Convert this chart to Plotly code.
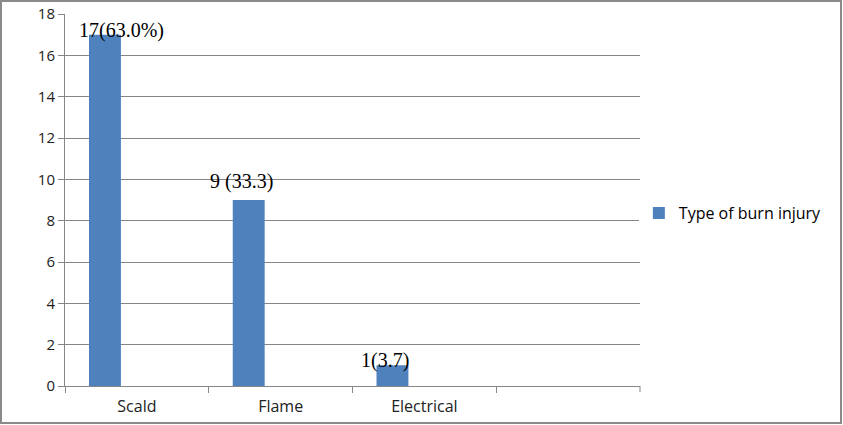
import plotly.graph_objects as go

# categories and counts (4th slot is empty in the original Excel chart)
categories = ["Scald", "Flame", "Electrical"]
counts = [17, 9, 1]
labels = ["17(63.0%)", "9 (33.3)", "1(3.7)"]
series_name = "Type of burn injury"

# label nudges, Excel labels were dragged by hand
label_dx = [-15, -39, -39]
label_dy = [4, 19, 5]

W, H = 843, 425
ml, mr, mt, mb = 65, 203, 14, 39
pw, ph = W - ml - mr, H - mt - mb

fig = go.Figure()
fig.add_trace(go.Bar(
    x=categories,
    y=counts,
    name=series_name,
    width=0.222,
    offset=-0.333,
    marker=dict(color="#4F81BD", line=dict(width=0)),
))

for c, v, t, dx, dy in zip(categories, counts, labels, label_dx, label_dy):
    fig.add_annotation(
        x=c, y=v, text=t, showarrow=False,
        xshift=dx, yshift=dy, yanchor="middle",
        font=dict(family="Liberation Serif", size=20, color="#000000"),
    )

# grey frame round the whole chart
fig.add_shape(
    type="rect", xref="paper", yref="paper",
    x0=-(ml - 1) / pw, x1=(W - 2 - ml) / pw,
    y0=-(mb - 2) / ph, y1=1 + (mt - 1) / ph,
    line=dict(color="#8a8a8a", width=2),
)
# closing tick at the right end of the category axis
fig.add_shape(
    type="line", xref="paper", yref="paper",
    x0=1, x1=1, y0=0, y1=-6 / ph,
    line=dict(color="#868686", width=1),
)

fig.update_layout(
    width=W, height=H,
    margin=dict(l=ml, r=mr, t=mt, b=mb, autoexpand=False),
    paper_bgcolor="white", plot_bgcolor="white",
    showlegend=True,
    legend=dict(x=0.998, y=0.465, xanchor="left", yanchor="middle",
                font=dict(family="Open Sans", size=16, color="#000000")),
    font=dict(family="Open Sans", size=15, color="#222222"),
    xaxis=dict(
        type="category", range=[-0.5, 3.5], automargin=False,
        tickson="boundaries", ticks="outside", ticklen=6,
        tickcolor="#868686", showline=True, linecolor="#868686",
        showgrid=False, tickfont=dict(size=16), ticklabelstandoff=6,
    ),
    yaxis=dict(
        range=[0, 18], dtick=2, ticks="outside", ticklen=6, automargin=False,
        tickcolor="#868686", showline=True, linecolor="#868686",
        showgrid=True, gridcolor="#868686", gridwidth=1,
        zeroline=False, tickfont=dict(size=15),
    ),
)

fig.write_html("out.html", config={"displayModeBar": False},
               post_script="document.body.style.margin='0';")
